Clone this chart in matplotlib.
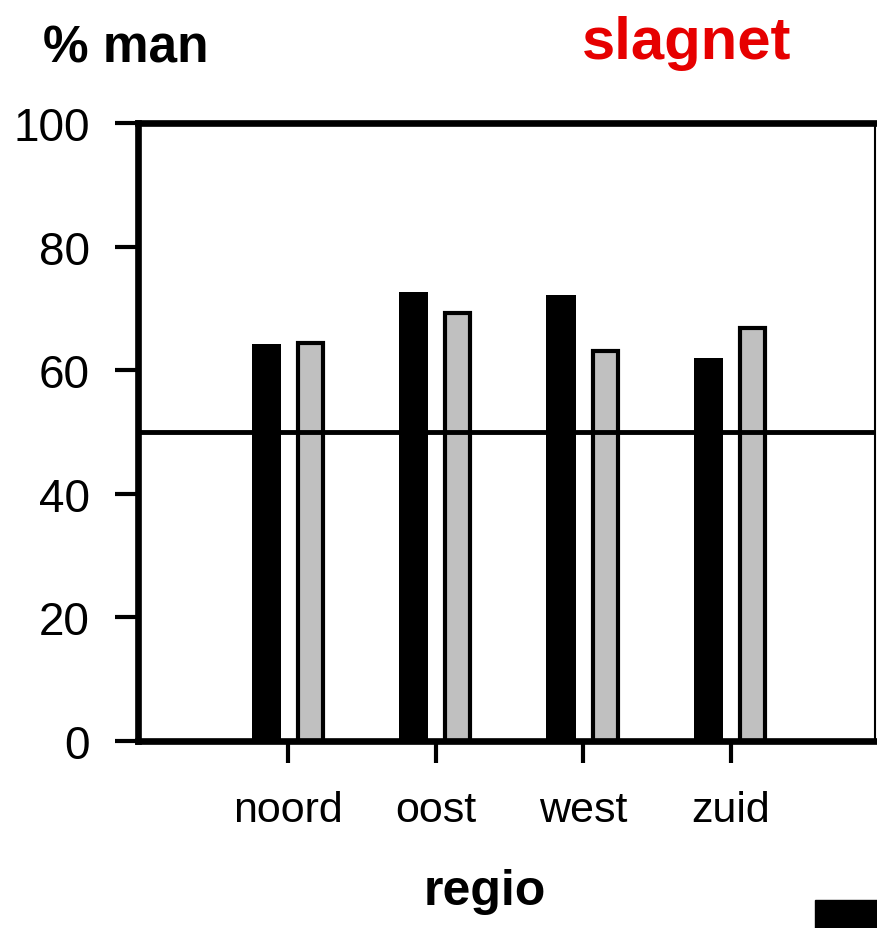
import numpy as np
import matplotlib.pyplot as plt
from matplotlib.patches import Rectangle

plt.rcParams['font.family'] = ['Liberation Sans', 'DejaVu Sans']

regions = ["noord", "oost", "west", "zuid"]
black_vals = [64.3, 72.7, 72.2, 61.9]
gray_vals = [64.4, 69.3, 63.1, 66.9]
ref_line = 50

fig = plt.figure(figsize=(8.77, 9.29), dpi=100)
ax = fig.add_axes([0.1574, 0.2013, 0.8403, 0.6652])

x = np.arange(len(regions))
ax.bar(x - 0.15, black_vals, width=0.2, color="black", zorder=2)
ax.bar(x + 0.15, gray_vals, width=0.17, color="#c0c0c0",
       edgecolor="black", linewidth=3, zorder=2)
ax.axhline(ref_line, color="black", linewidth=3.5, zorder=3)

ax.set_xlim(-1.02, 3.98)
ax.set_ylim(0, 100)
ax.set_xticks(x)
ax.set_xticklabels(regions, fontsize=31)
ax.set_yticks([0, 20, 40, 60, 80, 100])
ax.tick_params(axis="y", direction="out", length=16.5, width=3, pad=18, labelsize=33)
ax.tick_params(axis="x", direction="out", length=16, width=3, pad=19)

for side in ["left", "top", "bottom"]:
    ax.spines[side].set_linewidth(4.8)
ax.spines["right"].set_linewidth(1.5)
for sp in ax.spines.values():
    sp.set_zorder(4)

fig.text(0.049, 0.933, "% man", fontsize=37, fontweight="bold", va="baseline")
fig.text(0.6636, 0.936, "slagnet", fontsize=43, fontweight="bold",
         color="#e60000", va="baseline")
fig.text(0.553, 0.0258, "regio", fontsize=36, fontweight="bold",
         ha="center", va="baseline")

fig.patches.append(Rectangle((0.929, 0), 0.0707, 0.03, transform=fig.transFigure,
                             color="black", figure=fig))

fig.savefig("out.png", dpi=100)
